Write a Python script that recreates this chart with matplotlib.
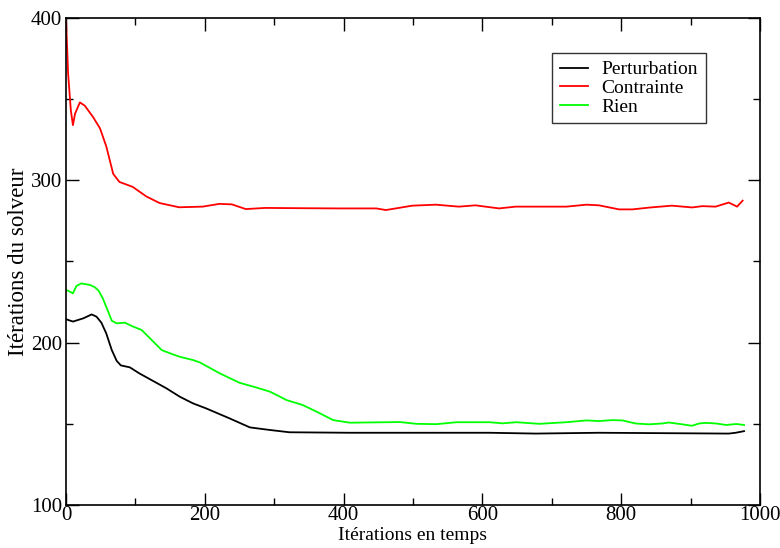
import matplotlib
matplotlib.use("Agg")
import matplotlib.pyplot as plt
from matplotlib.ticker import MultipleLocator

plt.rcParams['font.family'] = ['Liberation Serif', 'DejaVu Serif']

# Perturbation (black)
pert_x = [0, 3, 10, 25, 37, 44, 51, 58, 66, 73, 79, 92, 106, 123, 145, 164, 183, 202,
          236, 265, 294, 322, 409, 610, 677, 768, 955, 965, 977]
pert_y = [214.5, 214, 213, 215, 217.4, 216, 212.3, 205.7, 195.4, 188.8, 186, 184.8, 181,
          177, 171.8, 166.7, 162.6, 159.5, 153.3, 147.8, 146.2, 144.8, 144.5, 144.5,
          144.0, 144.5, 144.0, 144.5, 145.5]

# Contrainte (red)
cont_x = [0, 3, 7, 10, 13, 20, 27, 39, 49, 58, 68, 77, 96, 116, 135, 163, 197, 221, 239,
          259, 287, 350, 394, 447, 461, 499, 533, 566, 590, 624, 648, 721, 750, 768, 797,
          816, 840, 873, 902, 917, 936, 955, 967, 975]
cont_y = [400, 366, 343, 334, 341, 348, 346, 339, 332, 321, 304, 299, 296, 290, 286,
          283.4, 283.8, 285.5, 285.2, 282.3, 283, 282.8, 282.7, 282.7, 281.7, 284.4, 285,
          283.8, 284.6, 282.7, 283.8, 283.8, 285, 284.6, 282.1, 282.1, 283.2, 284.4, 283.3,
          284.1, 283.8, 286.3, 283.8, 287.5]

# Rien (green)
rien_x = [0, 3, 10, 15, 22, 35, 42, 47, 53, 59, 66, 73, 85, 95, 109, 121, 138, 154, 164,
          183, 193, 222, 250, 274, 294, 318, 341, 361, 385, 409, 481, 505, 534, 563, 610,
          629, 649, 682, 721, 750, 768, 787, 802, 821, 840, 859, 869, 888, 902, 912, 922,
          937, 951, 966, 977]
rien_y = [232.5, 232, 230.4, 234.9, 236.5, 235.5, 234, 232, 227.3, 221, 213.5, 211.9,
          212.3, 210.2, 207.8, 202.7, 195.4, 192.8, 191.3, 189.3, 187.8, 181, 175.3, 172.4,
          169.8, 164.6, 161.6, 157.5, 152.3, 150.7, 151.1, 150, 149.8, 151, 151, 150.3, 151,
          150, 151, 152.1, 151.7, 152.3, 152.1, 150.2, 149.7, 150.2, 150.8, 149.7, 148.8,
          150.2, 150.6, 150.2, 149.3, 149.9, 149.3]

labels = ["Perturbation", "Contrainte", "Rien"]
colors = ["#000000", "#ff0000", "#00ff00"]

fig = plt.figure(figsize=(7.8, 5.48), dpi=100)
right_px = 760
ax = fig.add_axes([66 / 780, 1 - 505 / 548, (right_px - 66) / 780, (505 - 18) / 548])

for (xs, ys), lab, c in zip([(pert_x, pert_y), (cont_x, cont_y), (rien_x, rien_y)], labels, colors):
    ax.plot(xs, ys, color=c, lw=1.3, label=lab)

ax.set_xlim(0, 1000)
ax.set_ylim(100, 400)
ax.xaxis.set_major_locator(MultipleLocator(200))
ax.xaxis.set_minor_locator(MultipleLocator(100))
ax.yaxis.set_major_locator(MultipleLocator(100))
ax.yaxis.set_minor_locator(MultipleLocator(50))
ax.tick_params(which='both', direction='in', top=True, right=True, labelsize=15, width=1)
ax.tick_params(which='major', length=9)
ax.tick_params(which='minor', length=5)
ax.tick_params(axis='x', which='major', pad=1)
ax.tick_params(axis='y', which='major', pad=3)
for s in ax.spines.values():
    s.set_linewidth(1.2)

ax.set_xlabel("Itérations en temps", fontsize=14, labelpad=1)
ax.set_ylabel("Itérations du solveur", fontsize=16.5, labelpad=1)

leg = ax.legend(loc='upper left', bbox_to_anchor=((552 - 66) / (right_px - 66), 0.928), borderaxespad=0,
                fontsize=14, frameon=True, fancybox=False, edgecolor='black',
                handlelength=1.45, handletextpad=0.7, labelspacing=0.05, borderpad=0.4)
leg.get_frame().set_linewidth(1.0)

fig.savefig("out.png", dpi=100)
